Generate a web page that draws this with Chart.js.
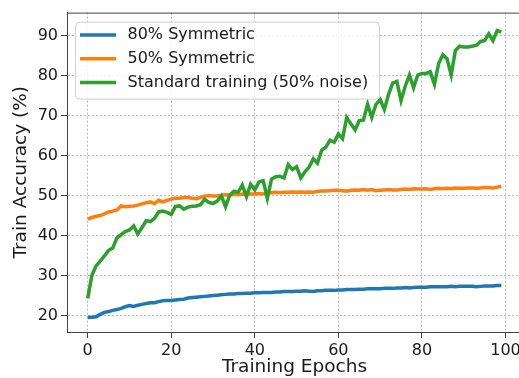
<!DOCTYPE html>
<html>
<head>
<meta charset="utf-8">
<script src="https://cdn.jsdelivr.net/npm/chart.js@4"></script>
<style>
  html, body { margin: 0; padding: 0; background: #fff; overflow: hidden; }
  #wrap { width: 519px; height: 378px; overflow: hidden; }
</style>
</head>
<body>
<div id="wrap"><canvas id="chart" width="525" height="378"></canvas></div>
<script>
// Data (train accuracy per epoch)
const epochs = Array.from({ length: 100 }, (_, i) => i);
const seriesNames = ['80% Symmetric', '50% Symmetric', 'Standard training (50% noise)'];
const seriesColors = ['#1f77b4', '#ff7f0e', '#2ca02c'];

const sym80 = [
  19.6, 19.7, 19.8, 20.4, 20.9, 21.1, 21.4, 21.6, 21.9, 22.3,
  22.6, 22.4, 22.7, 22.9, 23.1, 23.3, 23.3, 23.6, 23.8, 23.9,
  23.9, 24.0, 24.1, 24.2, 24.5, 24.6, 24.7, 24.8, 24.9, 25.0,
  25.1, 25.2, 25.3, 25.4, 25.5, 25.5, 25.6, 25.6, 25.7, 25.7,
  25.8, 25.8, 25.9, 25.9, 25.9, 26.0, 26.0, 26.1, 26.1, 26.1,
  26.2, 26.2, 26.3, 26.2, 26.1, 26.3, 26.3, 26.4, 26.4, 26.4,
  26.5, 26.5, 26.6, 26.6, 26.6, 26.7, 26.7, 26.8, 26.8, 26.8,
  26.8, 26.9, 26.9, 26.9, 27.0, 27.0, 27.1, 27.0, 27.1, 27.2,
  27.2, 27.2, 27.3, 27.3, 27.3, 27.3, 27.3, 27.4, 27.3, 27.4,
  27.4, 27.4, 27.4, 27.3, 27.4, 27.5, 27.5, 27.5, 27.6, 27.6
];

const sym50 = [
  44.2, 44.6, 44.9, 45.1, 45.5, 46.0, 46.2, 46.5, 47.5, 47.3,
  47.4, 47.5, 47.7, 48.0, 48.3, 48.5, 48.1, 48.9, 48.5, 48.9,
  49.2, 49.4, 49.4, 49.6, 49.6, 49.4, 49.3, 49.6, 49.9, 50.1,
  50.0, 50.0, 50.2, 50.3, 50.2, 50.4, 50.3, 50.5, 50.4, 50.5,
  50.5, 50.6, 50.5, 50.7, 50.8, 50.9, 50.8, 50.9, 50.9, 51.0,
  50.9, 51.0, 50.9, 51.0, 50.9, 51.1, 51.2, 51.2, 51.3, 51.4,
  51.4, 51.3, 51.2, 51.4, 51.5, 51.4, 51.6, 51.4, 51.6, 51.3,
  51.4, 51.5, 51.6, 51.5, 51.5, 51.6, 51.7, 51.6, 51.8, 51.7,
  51.7, 51.8, 51.6, 51.8, 51.9, 51.8, 51.9, 51.8, 52.0, 51.9,
  51.9, 52.0, 52.0, 51.9, 52.0, 52.1, 52.1, 52.0, 52.2, 52.4
];

const standard = [
  24.4, 30.1, 32.5, 33.7, 35.0, 36.4, 37.0, 39.5, 40.3, 41.1,
  41.5, 42.5, 40.5, 42.1, 43.8, 43.6, 44.4, 46.0, 46.2, 45.9,
  45.4, 47.4, 47.5, 46.7, 47.2, 47.4, 47.5, 47.8, 49.2, 48.4,
  48.1, 48.7, 50.0, 47.3, 50.2, 51.2, 50.9, 52.7, 49.8, 52.9,
  51.5, 53.5, 53.8, 49.4, 54.2, 54.8, 54.9, 54.5, 57.8, 56.6,
  57.3, 54.5, 56.0, 57.2, 59.3, 58.2, 61.4, 62.2, 63.9, 63.4,
  65.5, 64.3, 69.6, 68.0, 66.5, 68.8, 69.0, 72.9, 69.6, 72.9,
  74.1, 71.6, 75.3, 78.2, 78.6, 73.8, 77.4, 80.2, 77.0, 80.2,
  80.6, 80.6, 81.0, 77.9, 83.1, 85.3, 84.3, 80.2, 86.3, 87.4,
  87.2, 87.2, 87.4, 87.6, 88.6, 88.8, 90.5, 88.8, 91.3, 91.0
];

const xTicks = [0, 20, 40, 60, 80, 100];
const yTicks = [20, 30, 40, 50, 60, 70, 80, 90];

const FONT = 'DejaVu Sans';
const TEXT = '#1a1a1a';
const LINE_W = 3.5;

// Legend box inside the plot area plus the top spine
const frameAndLegend = {
  id: 'frameAndLegend',
  afterDraw(chart) {
    const { ctx, chartArea } = chart;
    ctx.save();
    ctx.strokeStyle = '#444';
    ctx.lineWidth = 1;
    ctx.beginPath();
    ctx.moveTo(chartArea.left, chartArea.top + 0.5);
    ctx.lineTo(chartArea.right, chartArea.top + 0.5);
    ctx.stroke();

    const bx = chartArea.left + 8, by = chartArea.top + 9, bw = 304, bh = 77;
    ctx.beginPath();
    ctx.roundRect(bx + 0.5, by + 0.5, bw, bh, 4);
    ctx.fillStyle = 'rgba(255,255,255,0.8)';
    ctx.fill();
    ctx.strokeStyle = '#d0d0d0';
    ctx.stroke();

    ctx.font = '16px "' + FONT + '"';
    ctx.textBaseline = 'middle';
    chart.data.datasets.forEach((ds, i) => {
      const ly = by + 13.5 + i * 23.7;
      ctx.strokeStyle = ds.borderColor;
      ctx.lineWidth = LINE_W;
      ctx.beginPath();
      ctx.moveTo(bx + 5, ly);
      ctx.lineTo(bx + 41, ly);
      ctx.stroke();
      ctx.fillStyle = TEXT;
      ctx.fillText(ds.label, bx + 52.5, ly);
    });
    ctx.restore();
  }
};

const makeSet = (i, values, order) => ({
  label: seriesNames[i],
  data: values,
  borderColor: seriesColors[i],
  backgroundColor: seriesColors[i],
  borderWidth: LINE_W,
  pointRadius: 0,
  tension: 0,
  order: order
});

new Chart(document.getElementById('chart'), {
  type: 'line',
  data: {
    labels: epochs,
    datasets: [
      makeSet(0, sym80, 3),
      makeSet(1, sym50, 2),
      makeSet(2, standard, 1)
    ]
  },
  options: {
    responsive: false,
    animation: false,
    layout: { padding: { left: 0, top: 9, right: 3, bottom: 0 } },
    plugins: { legend: { display: false }, tooltip: { enabled: false } },
    scales: {
      x: {
        type: 'linear',
        min: -4.95,
        max: 103.95,
        afterFit: s => { s.height = 46; },
        afterBuildTicks: s => { s.ticks = xTicks.map(v => ({ value: v })); },
        grid: { color: '#b8b8b8', tickColor: '#444', tickLength: 6 },
        border: { color: '#444', width: 1, dash: [2, 2] },
        ticks: { color: TEXT, font: { family: FONT, size: 16 }, padding: 3, maxRotation: 0 },
        title: { display: true, text: 'Training Epochs', color: TEXT,
                 font: { family: FONT, size: 18.5 }, padding: { top: 0, bottom: 0 } }
      },
      y: {
        min: 16.0,
        max: 95.8,
        afterFit: s => { s.width = 67; },
        afterBuildTicks: s => { s.ticks = yTicks.map(v => ({ value: v })); },
        grid: { color: '#b8b8b8', tickColor: '#444', tickLength: 6 },
        border: { color: '#444', width: 1, dash: [2, 2] },
        ticks: { color: TEXT, font: { family: FONT, size: 16 }, padding: 3 },
        title: { display: true, text: 'Train Accuracy (%)', color: TEXT,
                 font: { family: FONT, size: 18.5 }, padding: { top: 10, bottom: 0 } }
      }
    }
  },
  plugins: [frameAndLegend]
});
</script>
</body>
</html>
